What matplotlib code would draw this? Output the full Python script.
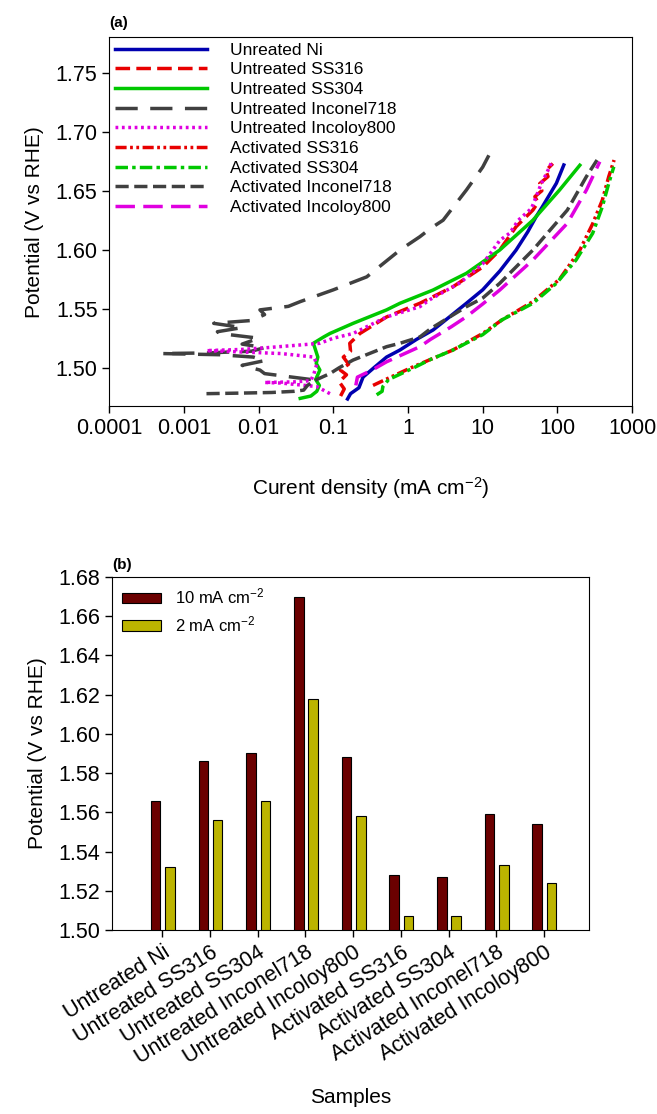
import numpy as np
import matplotlib.pyplot as plt

plt.rcParams['font.family'] = ['Liberation Sans', 'DejaVu Sans']
plt.rcParams['mathtext.default'] = 'regular'
plt.rcParams['lines.scale_dashes'] = False

# ---- (a) polarization curves: potential (V vs RHE) and current density (mA cm-2)
ni_E = [1.4735, 1.478, 1.483, 1.492, 1.500, 1.509, 1.515, 1.524, 1.532, 1.5432,
        1.5546, 1.566, 1.582, 1.5997, 1.615, 1.628, 1.6364, 1.6563, 1.6718]
ni_j = [0.155, 0.17, 0.22, 0.25, 0.35, 0.516, 0.78, 1.3, 2.17, 3.62,
        6.05, 10.0, 17, 28, 40, 52, 63, 97, 122]

ss316_E = [1.476, 1.482, 1.488, 1.494, 1.498, 1.503, 1.509, 1.514, 1.5207, 1.529,
           1.543, 1.5546, 1.5686, 1.5853, 1.5997, 1.6195, 1.6336, 1.640, 1.645,
           1.650, 1.656, 1.662, 1.667, 1.673]
ss316_j = [0.125, 0.14, 0.12, 0.15, 0.124, 0.16, 0.136, 0.17, 0.166, 0.227,
           0.516, 1.44, 4.0, 10.0, 16.9, 28, 47, 55, 50, 62, 58, 75, 70, 87]

ss304_E = [1.474, 1.476, 1.480, 1.485, 1.490, 1.498, 1.5037, 1.509, 1.5207, 1.526,
           1.529, 1.5376, 1.549, 1.5546, 1.5658, 1.580, 1.5997, 1.625, 1.6506, 1.6716]
ss304_j = [0.036, 0.05, 0.06, 0.065, 0.058, 0.066, 0.059, 0.062, 0.054, 0.074,
           0.09, 0.184, 0.516, 0.78, 2.16, 6.05, 16.9, 47, 107, 200]

inc718_E = [1.490, 1.495, 1.498, 1.502, 1.506, 1.509, 1.511, 1.512, 1.5125, 1.514,
            1.517, 1.520, 1.525, 1.529, 1.5305, 1.534, 1.5376, 1.540, 1.545, 1.549,
            1.552, 1.556, 1.566, 1.577, 1.5997, 1.611, 1.618, 1.625, 1.6506, 1.670, 1.680]
inc718_j = [0.05, 0.012, 0.0104, 0.006, 0.012, 0.0085, 0.003, 0.0005, 0.002, 0.008,
            0.012, 0.006, 0.01, 0.003, 0.0028, 0.006, 0.0025, 0.008, 0.012, 0.0104,
            0.025, 0.036, 0.1, 0.28, 0.78, 1.44, 2.0, 2.95, 6.05, 10.0, 12.1]

inc800_E = [1.478, 1.484, 1.487, 1.4875, 1.488, 1.489, 1.495, 1.503, 1.509, 1.512,
            1.5135, 1.5145, 1.5155, 1.517, 1.5195, 1.5207, 1.525, 1.529, 1.5347, 1.543,
            1.5517, 1.558, 1.572, 1.588, 1.608, 1.614, 1.625, 1.635, 1.645, 1.655,
            1.665, 1.675]
inc800_j = [0.09, 0.06, 0.02, 0.012, 0.03, 0.05, 0.055, 0.06, 0.055, 0.02,
            0.005, 0.002, 0.006, 0.013, 0.04, 0.066, 0.1, 0.184, 0.28, 0.516,
            1.44, 2.0, 5.0, 10.0, 17, 23, 30, 45, 52, 60, 72, 85]

a_ss316_E = [1.485, 1.490, 1.500, 1.507, 1.515, 1.529, 1.5404, 1.556, 1.575, 1.5997,
             1.622, 1.642, 1.662, 1.676]
a_ss316_j = [0.34, 0.5, 1.1, 2.0, 4.0, 10.0, 18, 47, 107, 200, 297, 400, 488, 575]

a_ss304_E = [1.477, 1.480, 1.484, 1.490, 1.500, 1.507, 1.515, 1.528, 1.5404, 1.5546,
             1.5715, 1.5913, 1.6139, 1.6364, 1.6563, 1.6703]
a_ss304_j = [0.38, 0.45, 0.46, 0.55, 1.2, 2.0, 4.0, 10.0, 18, 47,
             97, 178, 297, 400, 488, 570]

a_inc718_E = [1.478, 1.4785, 1.479, 1.480, 1.481, 1.485, 1.490, 1.495, 1.500, 1.5065,
              1.5178, 1.5207, 1.526, 1.533, 1.5517, 1.559, 1.5715, 1.5997, 1.6336,
              1.662, 1.676]
a_inc718_j = [0.002, 0.006, 0.015, 0.03, 0.04, 0.045, 0.06, 0.09, 0.12, 0.184,
              0.516, 0.78, 1.44, 2.0, 6.05, 10.0, 16.9, 47, 136, 245, 340]

a_inc800_E = [1.485, 1.492, 1.498, 1.505, 1.5178, 1.524, 1.5347, 1.5432, 1.554, 1.5658,
              1.5913, 1.6224, 1.6506, 1.6746]
a_inc800_j = [0.2, 0.21, 0.33, 0.516, 1.44, 2.0, 3.8, 6.05, 10.0, 16.9,
              47, 136, 245, 370]

# ---- (b) potential needed for 10 and 2 mA cm-2
samples = ['Untreated Ni', 'Untreated SS316', 'Untreated SS304', 'Untreated Inconel718',
           'Untreated Incoloy800', 'Activated SS316', 'Activated SS304',
           'Activated Inconel718', 'Activated Incoloy800']
e_10 = [1.566, 1.586, 1.590, 1.670, 1.588, 1.528, 1.527, 1.559, 1.554]
e_2 = [1.532, 1.556, 1.566, 1.618, 1.558, 1.507, 1.507, 1.533, 1.524]

fig = plt.figure(figsize=(6.57, 11.14), dpi=100)

# ------------------------------------------------------------ (a)
ax1 = fig.add_axes([0.1664, 0.6355, 0.7956, 0.331])
curves = [
    (ni_j, ni_E, 'Unreated Ni', '#0000b0', None),
    (ss316_j, ss316_E, 'Untreated SS316', '#e80000', (10.5, 4.5)),
    (ss304_j, ss304_E, 'Untreated SS304', '#00c800', None),
    (inc718_j, inc718_E, 'Untreated Inconel718', '#404040', (16, 9)),
    (inc800_j, inc800_E, 'Untreated Incoloy800', '#e000e0', (2, 2.6)),
    (a_ss316_j, a_ss316_E, 'Activated SS316', '#e80000', (8, 2.5, 2, 2.5, 2, 2.5)),
    (a_ss304_j, a_ss304_E, 'Activated SS304', '#00c800', (9, 3, 2.5, 3)),
    (a_inc718_j, a_inc718_E, 'Activated Inconel718', '#404040', (9.5, 4)),
    (a_inc800_j, a_inc800_E, 'Activated Incoloy800', '#e000e0', (14, 6)),
]
for j, E, lab, col, dash in curves:
    line, = ax1.plot(j, E, color=col, lw=2.5, label=lab)
    if dash is not None:
        line.set_dashes(dash)

ax1.set_xscale('log')
ax1.set_xlim(1e-4, 1e3)
ax1.set_ylim(1.4675, 1.78)
ax1.set_xticks([1e-4, 1e-3, 1e-2, 1e-1, 1, 10, 100, 1000])
ax1.set_xticklabels(['0.0001', '0.001', '0.01', '0.1', '1', '10', '100', '1000'])
ax1.minorticks_off()
ax1.set_yticks([1.50, 1.55, 1.60, 1.65, 1.70, 1.75])
ax1.set_yticklabels(['1.50', '1.55', '1.60', '1.65', '1.70', '1.75'])
ax1.tick_params(direction='out', length=5, width=1, labelsize=15.5, top=False, right=False)
ax1.set_xlabel('Curent density (mA cm$^{-2}$)', fontsize=15, labelpad=26)
ax1.set_ylabel('Potential (V vs RHE)', fontsize=15, labelpad=8)
ax1.text(0.0, 1.02, '(a)', transform=ax1.transAxes, fontsize=11, fontweight='bold',
         ha='left', va='bottom')
ax1.legend(loc='upper left', frameon=False, fontsize=12.5, handlelength=5.35,
           handletextpad=1.3, labelspacing=0.26, borderaxespad=0.0, borderpad=0.3)

# ------------------------------------------------------------ (b)
ax2 = fig.add_axes([0.1705, 0.1652, 0.726, 0.3169])
x = np.arange(1, len(samples) + 1)
ax2.bar(x - 0.14, e_10, width=0.2, color='#6b0000', edgecolor='black', lw=0.8,
        label='10 mA cm$^{-2}$')
ax2.bar(x + 0.16, e_2, width=0.2, color='#bcb400', edgecolor='black', lw=0.8,
        label='2 mA cm$^{-2}$')
ax2.set_xlim(-0.055, 9.945)
ax2.set_ylim(1.50, 1.68)
ax2.set_yticks(np.arange(1.50, 1.681, 0.02))
ax2.set_yticklabels(['%.2f' % v for v in np.arange(1.50, 1.681, 0.02)])
ax2.set_xticks(x)
ax2.set_xticklabels(samples, rotation=32, ha='right', rotation_mode='anchor')
ax2.tick_params(direction='out', length=5, width=1, labelsize=15.5, top=False, right=False)
ax2.set_xlabel('Samples', fontsize=15, labelpad=14)
ax2.set_ylabel('Potential (V vs RHE)', fontsize=15, labelpad=8)
ax2.text(0.0, 1.015, '(b)', transform=ax2.transAxes, fontsize=11, fontweight='bold',
         ha='left', va='bottom')
ax2.legend(loc='upper left', frameon=False, fontsize=12, handlelength=2.35,
           handleheight=0.6, handletextpad=0.8, labelspacing=0.45,
           borderaxespad=0.3, borderpad=0.3)

fig.savefig('out.png', dpi=100)
